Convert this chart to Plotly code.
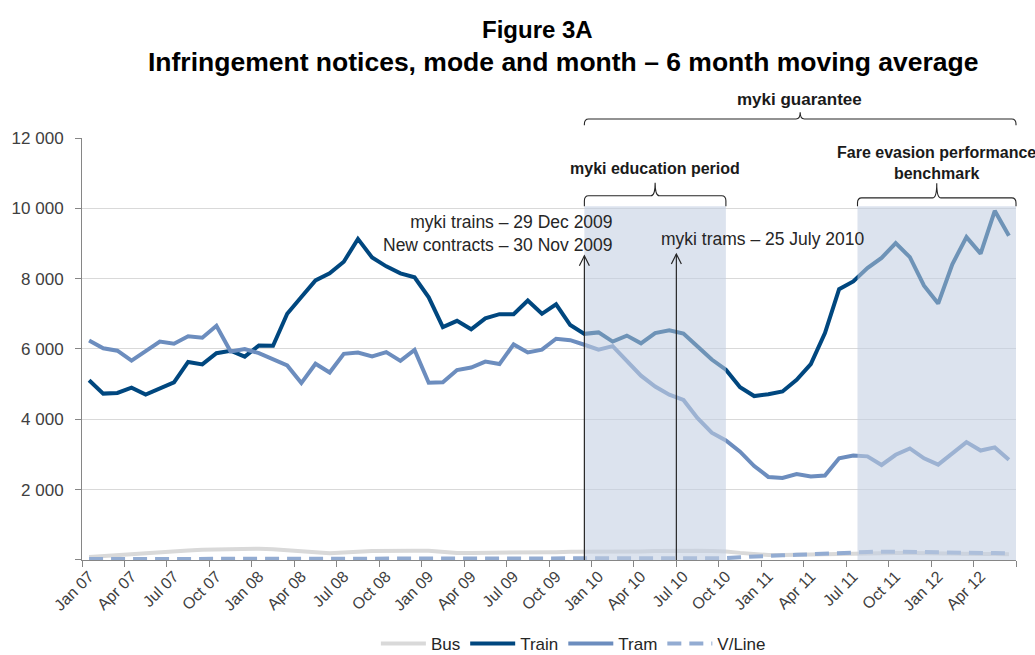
import plotly.graph_objects as go

months = [
    "Jan 07", "Feb 07", "Mar 07", "Apr 07", "May 07", "Jun 07", "Jul 07", "Aug 07", "Sep 07", "Oct 07", "Nov 07", "Dec 07",
    "Jan 08", "Feb 08", "Mar 08", "Apr 08", "May 08", "Jun 08", "Jul 08", "Aug 08", "Sep 08", "Oct 08", "Nov 08", "Dec 08",
    "Jan 09", "Feb 09", "Mar 09", "Apr 09", "May 09", "Jun 09", "Jul 09", "Aug 09", "Sep 09", "Oct 09", "Nov 09", "Dec 09",
    "Jan 10", "Feb 10", "Mar 10", "Apr 10", "May 10", "Jun 10", "Jul 10", "Aug 10", "Sep 10", "Oct 10", "Nov 10", "Dec 10",
    "Jan 11", "Feb 11", "Mar 11", "Apr 11", "May 11", "Jun 11", "Jul 11", "Aug 11", "Sep 11", "Oct 11", "Nov 11", "Dec 11",
    "Jan 12", "Feb 12", "Mar 12", "Apr 12", "May 12", "Jun 12",
]

bus = [80, 110, 140, 170, 200, 230, 250, 270, 290, 300,
       310, 320, 320, 300, 280, 250, 220, 190, 200, 230,
       250, 260, 270, 260, 260, 220, 200, 200, 200, 200,
       210, 220, 220, 220, 230, 230, 220, 220, 230, 240,
       250, 260, 260, 260, 250, 240, 200, 160, 140, 140,
       150, 160, 170, 180, 190, 200, 200, 200, 200, 190,
       190, 180, 180, 170, 170, 160]

train = [5110, 4730, 4750, 4900, 4700, 4870, 5050, 5630, 5560, 5880,
         5950, 5780, 6100, 6090, 7000, 7480, 7950, 8150, 8480, 9130,
         8600, 8350, 8150, 8040, 7470, 6620, 6800, 6560, 6870, 6990,
         6990, 7380, 7000, 7270, 6680, 6430, 6470, 6210, 6380, 6160,
         6450, 6530, 6440, 6070, 5700, 5410, 4910, 4660, 4710, 4790,
         5120, 5570, 6450, 7700, 7920, 8300, 8590, 9010, 8610, 7800,
         7290, 8410, 9180, 8710, 9930, 9220]

tram = [6240, 6020, 5950, 5670, 5940, 6210, 6150, 6360, 6320, 6660,
        5930, 6000, 5880, 5690, 5530, 5030, 5580, 5330, 5860, 5900,
        5790, 5910, 5660, 5970, 5040, 5050, 5400, 5470, 5640, 5570,
        6130, 5900, 5980, 6290, 6250, 6120, 5980, 6080, 5640, 5240,
        4930, 4700, 4550, 4030, 3620, 3400, 3080, 2670, 2360, 2330,
        2440, 2370, 2400, 2890, 2970, 2945, 2700, 2990, 3170, 2890,
        2710, 3040, 3350, 3110, 3200, 2850]

vline = [25, 25, 25, 25, 25, 25, 25, 25, 25, 25,
         25, 25, 25, 25, 25, 25, 25, 25, 25, 25,
         25, 25, 25, 25, 25, 25, 25, 25, 25, 25,
         30, 30, 30, 30, 30, 30, 30, 30, 30, 30,
         30, 30, 30, 35, 40, 50, 75, 100, 115, 130,
         145, 165, 180, 195, 210, 225, 235, 240, 245, 225,
         215, 215, 215, 205, 195, 185]

y_ticks = [0, 2000, 4000, 6000, 8000, 10000, 12000]
y_ticktext = ["", "2 000", "4 000", "6 000", "8 000", "10 000", "12 000"]

FONT = "Arial, 'Liberation Sans', sans-serif"
C_BUS = "#D9D9D9"
C_TRAIN = "#00477F"
C_TRAM = "#6C8DBE"
C_VLINE = "#93ACD2"
SHADE = "rgba(193,205,225,0.57)"

fig = go.Figure()
fig.add_trace(go.Scatter(x=months, y=bus, name="Bus", mode="lines",
                         line=dict(color=C_BUS, width=4)))
fig.add_trace(go.Scatter(x=months, y=train, name="Train", mode="lines",
                         line=dict(color=C_TRAIN, width=4)))
fig.add_trace(go.Scatter(x=months, y=tram, name="Tram", mode="lines",
                         line=dict(color=C_TRAM, width=4)))
fig.add_trace(go.Scatter(x=months, y=vline, name="V/Line", mode="lines",
                         line=dict(color=C_VLINE, width=4, dash="14px,8px")))

N = len(months)


def px(idx):
    return (idx + 0.5) / N


def bracket(i0, i1, im, yh, yhook, ytip):
    x0, x1, xm = px(i0), px(i1), px(im)
    dx = 0.0045
    dy = 0.012
    return (f"M {x0},{yhook} L {x0},{yh - dy} Q {x0},{yh} {x0 + dx},{yh} "
            f"L {xm - dx},{yh} Q {xm},{yh} {xm},{ytip} Q {xm},{yh} {xm + dx},{yh} "
            f"L {x1 - dx},{yh} Q {x1},{yh} {x1},{yh - dy} L {x1},{yhook}")


shapes = []
# shaded periods (drawn over the lines, semi-transparent)
shapes.append(dict(type="rect", xref="x", yref="paper", x0=35, x1=45, y0=0, y1=0.838,
                   fillcolor=SHADE, line=dict(width=0), layer="above"))
shapes.append(dict(type="rect", xref="x", yref="paper", x0=54.3, x1=65.5, y0=0, y1=0.838,
                   fillcolor=SHADE, line=dict(width=0), layer="above"))
# arrows
for ax_x, tip in [(35, 8650), (41.5, 8700)]:
    shapes.append(dict(type="line", xref="x", yref="y", x0=ax_x, x1=ax_x, y0=0, y1=tip,
                       line=dict(color="#262626", width=1.2), layer="above"))
    shapes.append(dict(type="path", xref="x", yref="y", xsizemode="pixel", ysizemode="pixel",
                       xanchor=ax_x, yanchor=tip, path="M -5,-10 L 0,0 L 5,-10",
                       line=dict(color="#262626", width=1.2), layer="above"))
# brackets
bline = dict(color="#262626", width=1.1)
shapes.append(dict(type="path", xref="paper", yref="paper", layer="above", line=bline,
                   path=bracket(35, 65.5, 50.25, 1.045, 1.030, 1.061)))
shapes.append(dict(type="path", xref="paper", yref="paper", layer="above", line=bline,
                   path=bracket(35, 45, 40, 0.863, 0.838, 0.894)))
shapes.append(dict(type="path", xref="paper", yref="paper", layer="above", line=bline,
                   path=bracket(54.3, 65.5, 59.9, 0.858, 0.838, 0.893)))

annotations = [
    dict(text="<b>Figure 3A</b>", xref="paper", yref="paper", x=0.4875, y=1.257,
         xanchor="center", yanchor="middle", showarrow=False,
         font=dict(size=24, color="#000000", family=FONT)),
    dict(text="<b>Infringement notices, mode and month – 6 month moving average</b>",
         xref="paper", yref="paper", x=0.515, y=1.181,
         xanchor="center", yanchor="middle", showarrow=False,
         font=dict(size=26.5, color="#000000", family=FONT)),
    dict(text="<b>myki guarantee</b>", xref="paper", yref="paper", x=px(50.2), y=1.091,
         xanchor="center", yanchor="middle", showarrow=False,
         font=dict(size=17, color="#1a1a1a", family=FONT)),
    dict(text="<b>myki education period</b>", xref="paper", yref="paper", x=px(40), y=0.927,
         xanchor="center", yanchor="middle", showarrow=False,
         font=dict(size=16, color="#1a1a1a", family=FONT)),
    dict(text="<b>Fare evasion performance</b><br><b>benchmark</b>", xref="paper", yref="paper",
         x=px(59.9), y=0.941, xanchor="center", yanchor="middle", showarrow=False, align="center",
         font=dict(size=16, color="#1a1a1a", family=FONT)),
    dict(text="myki trains – 29 Dec 2009<br>New contracts – 30 Nov 2009", xref="x", yref="y",
         x=37.15, y=9280, xanchor="right", yanchor="middle", align="right", showarrow=False,
         font=dict(size=17.5, color="#262626", family=FONT)),
    dict(text="myki trams – 25 July 2010", xref="x", yref="y",
         x=40.3, y=9140, xanchor="left", yanchor="middle", showarrow=False,
         font=dict(size=17.5, color="#262626", family=FONT)),
]

fig.update_layout(
    width=1035, height=655,
    margin=dict(l=78, r=19, t=138, b=95),
    paper_bgcolor="white", plot_bgcolor="white",
    font=dict(family=FONT, color="#404040"),
    showlegend=True,
    legend=dict(orientation="h", xref="container", yref="container", x=0.554, xanchor="center",
                y=0.017, yanchor="middle", font=dict(size=17, color="#262626", family=FONT),
                bgcolor="rgba(0,0,0,0)", traceorder="normal", itemwidth=45),
    shapes=shapes,
    annotations=annotations,
)

fig.update_xaxes(type="category", range=[-0.5, 65.5], tickmode="linear", tick0=0, dtick=3,
                 tickson="boundaries", ticks="outside", ticklen=6, tickcolor="#868686",
                 tickangle=-45, tickfont=dict(size=16, color="#404040", family=FONT),
                 showline=True, linecolor="#868686", linewidth=1, showgrid=False, zeroline=False)
fig.update_yaxes(range=[0, 12000], tickmode="array", tickvals=y_ticks, ticktext=y_ticktext,
                 ticks="outside", ticklen=6, tickcolor="#868686", ticklabelstandoff=8,
                 tickfont=dict(size=17, color="#404040", family=FONT),
                 showline=True, linecolor="#868686", linewidth=1,
                 showgrid=True, gridcolor="#D9D9D9", gridwidth=1, zeroline=False)

fig.write_html("out.html", config={"displayModeBar": False},
               post_script="document.body.style.margin='0px';")
